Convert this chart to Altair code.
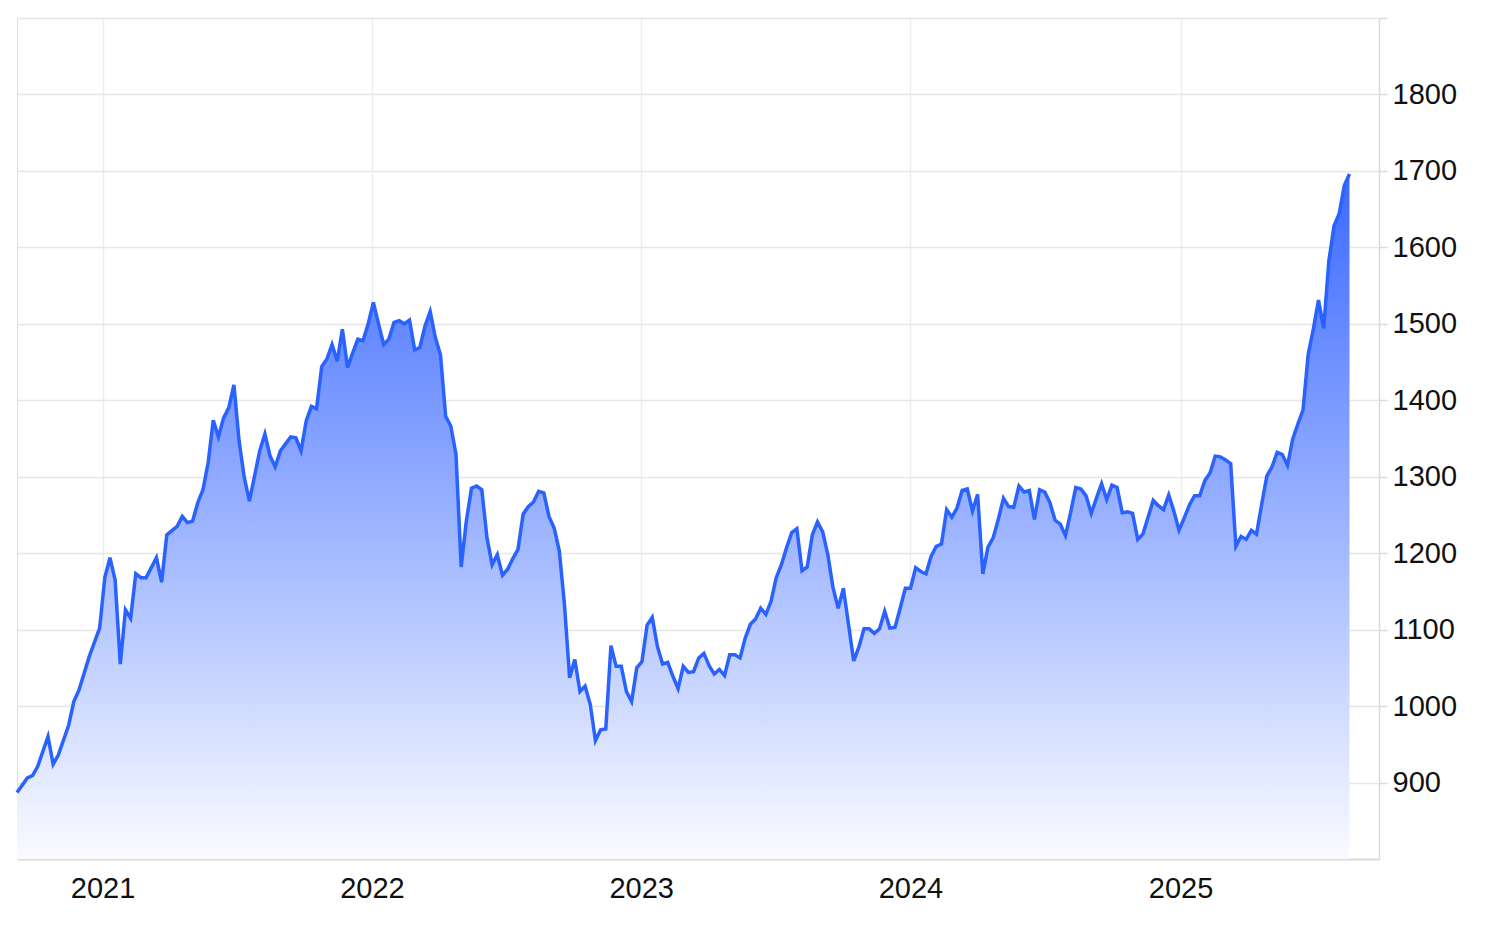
import altair as alt
import pandas as pd

# Weekly closing values (None = week not readable on the picture)
start_date = "2020-09-07"
weekly_close = [
    887, None, 906, 909, 921, None, 960, 924, 936, None,          # 0-9
    975, 1006, 1021, None, 1065, None, 1102, 1168, 1194, 1165,    # 10-19
    1055, 1126, 1115, 1173, 1168, 1168, None, 1194, 1162, 1224,   # 20-29
    None, 1235, 1248, 1240, 1242, 1266, 1283, 1318, 1374, 1352,   # 30-39
    1377, 1390, 1420, 1347, 1299, 1268, None, 1334, 1356, 1327,   # 40-49
    1313, 1334, 1343, 1352, 1351, 1334, 1373, 1392, 1389, 1444,   # 50-59
    1454, 1473, 1451, 1493, 1443, 1462, 1480, 1478, 1500, 1528,   # 60-69
    1500, 1473, 1480, 1502, 1504, 1500, 1505, 1466, 1469, 1497,   # 70-79
    1516, 1482, 1459, 1379, 1366, 1329, 1182, 1242, 1285, 1288,   # 80-89
    1283, 1220, 1185, 1198, 1171, 1179, 1193, 1205, 1251, 1261,   # 90-99
    1267, 1281, 1279, 1248, 1233, 1203, 1133, 1037, 1061, 1019,   # 100-109
    1026, 1002, 955, 969, 970, 1079, 1052, 1052, 1019, 1006,      # 110-119
    1050, 1058, 1106, 1116, 1078, 1055, 1057, 1039, 1023, 1052,   # 120-129
    1044, 1045, 1063, 1069, 1053, 1042, 1048, 1040, 1067, 1067,   # 130-139
    1063, 1089, 1107, 1114, 1128, 1120, 1137, 1168, 1185, 1207,   # 140-149
    1227, 1232, 1177, 1182, 1224, 1241, 1228, 1198, 1155, 1128,   # 150-159
    1154, 1107, 1059, 1077, 1101, 1101, 1095, 1101, 1124, 1102,   # 160-169
    1103, 1128, 1154, 1154, 1181, 1176, 1173, 1196, 1209, 1212,   # 170-179
    1257, 1247, 1259, 1282, 1284, 1255, 1277, 1173, 1208, 1220,   # 180-189
    1244, 1272, 1261, 1260, 1288, 1280, 1282, 1244, 1283, 1280,   # 190-199
    1266, 1243, 1238, 1223, 1253, 1286, 1284, 1275, 1252, 1272,   # 200-209
    1291, 1270, 1289, 1286, 1253, 1254, 1252, 1218, 1225, 1247,   # 210-219
    1269, 1262, 1257, 1276, 1255, 1230, 1246, 1263, 1275, 1275,   # 220-229
    1295, 1305, 1327, 1326, 1322, 1317, 1209, 1222, 1218, 1230,   # 230-239
    1225, 1264, 1301, 1313, 1332, 1329, 1315, 1349, 1369, 1387,   # 240-249
    1460, 1493, 1531, 1494, 1582, 1628, 1644, 1681, 1696,         # 250-258
]
year_ticks = [2021, 2022, 2023, 2024, 2025]
y_grid = [900, 1000, 1100, 1200, 1300, 1400, 1500, 1600, 1700, 1800, 1900]
y_domain = [800, 1900]

df = pd.DataFrame({
    "date": pd.date_range(start_date, periods=len(weekly_close), freq="7D"),
    "close": weekly_close,
}).dropna()

x_enc = alt.X(
    "date:T",
    scale=alt.Scale(domain=[alt.DateTime(year=2020, month=9, date=7),
                            alt.DateTime(year=2025, month=9, date=27)], nice=False),
    axis=alt.Axis(
        values=[alt.DateTime(year=y, month=1, date=1) for y in year_ticks],
        format="%Y", title=None, orient="bottom", grid=True,
        gridColor="#e8edf3", gridWidth=1.5, ticks=False,
        domainColor="#d9d9d9", domainWidth=2,
        labelFontSize=29, labelColor="#111111", labelFont="Liberation Sans",
        labelPadding=15, labelFlush=False,
    ),
)
y_enc = alt.Y(
    "close:Q",
    scale=alt.Scale(domain=y_domain, zero=False, nice=False),
    axis=alt.Axis(
        values=y_grid, orient="right", title=None, grid=True, format="d",
        gridColor="#e6e6e6", gridWidth=1.5,
        tickColor="#dadada", tickSize=8, tickWidth=1.5,
        domainColor="#dadada", domainWidth=1.5,
        labelFontSize=29, labelColor="#111111", labelFont="Liberation Sans",
        labelPadding=5,
        labelExpr="datum.value >= 1900 ? '' : datum.label",
    ),
)

area = alt.Chart(df).mark_area(
    color=alt.Gradient(
        gradient="linear",
        stops=[alt.GradientStop(color="#3a69ff", offset=0),
               alt.GradientStop(color="#fafbff", offset=1)],
        x1=1, x2=1, y1=0, y2=1,
    ),
    interpolate="linear",
).encode(x=x_enc, y=y_enc, y2=alt.datum(y_domain[0]))

line = alt.Chart(df).mark_line(color="#2962ff", strokeWidth=3.5, interpolate="linear").encode(
    x="date:T", y="close:Q"
)

chart = alt.layer(area, line).properties(
    width=1362, height=841,
    padding={"left": 2, "top": 9, "right": 10, "bottom": 10},
).configure_view(strokeWidth=0).configure(background="white")

chart.save("out.html", embed_options={"renderer": "svg", "actions": False})
